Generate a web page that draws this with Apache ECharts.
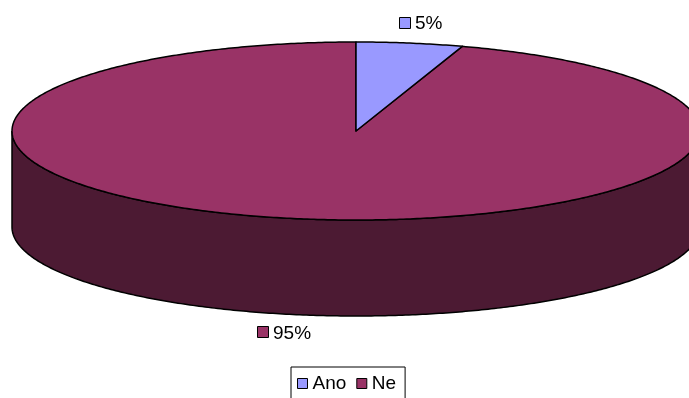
<!DOCTYPE html>
<html>
<head>
<meta charset="utf-8">
<script src="https://cdn.jsdelivr.net/npm/echarts@6/dist/echarts.min.js"></script>
<style>html,body{margin:0;padding:0;background:#fff}#c{width:689px;height:398px}</style>
</head>
<body>
<div id="c"></div>
<script>
const categories = ['Ano', 'Ne'];
const values = [5, 95];
const labelTexts = ['5%', '95%'];

const topColors = ['#9999FF', '#993366'];
const sideColors = ['#4D4D80', '#4C1A33'];
const FONT = 'Liberation Sans, Arial, sans-serif';
const FONT_SIZE = 19;

// geometry (style constants)
const G = { cx: 356, cy: 131, a: 344, b: 89, depth: 96 };
const total = values.reduce((s, v) => s + v, 0);

const mctx = document.createElement('canvas').getContext('2d');
mctx.font = FONT_SIZE + 'px ' + FONT;

function pt(t, dy) {
  return [G.cx + G.a * Math.sin(t), G.cy - G.b * Math.cos(t) + (dy || 0)];
}
function arc(t0, t1, dy) {
  const pts = [];
  const n = Math.max(2, Math.ceil(Math.abs(t1 - t0) / 0.01));
  for (let i = 0; i <= n; i++) pts.push(pt(t0 + (t1 - t0) * i / n, dy));
  return pts;
}

function renderSlice(idx) {
  let before = 0;
  for (let i = 0; i < idx; i++) before += values[i];
  const t0 = before / total * 2 * Math.PI;
  const t1 = (before + values[idx]) / total * 2 * Math.PI;
  const children = [];
  const LW = 1.5;
  // side (visible front half: pi/2 .. 3pi/2)
  const s0 = Math.max(t0, Math.PI / 2), s1 = Math.min(t1, 3 * Math.PI / 2);
  if (s1 > s0) {
    const topEdge = arc(s0, s1, 0);
    const botEdge = arc(s1, s0, G.depth);
    children.push({
      type: 'polygon',
      shape: { points: topEdge.concat(botEdge) },
      style: { fill: sideColors[idx], stroke: '#000', lineWidth: LW }
    });
  }
  // top face
  children.push({
    type: 'polygon',
    shape: { points: [[G.cx, G.cy]].concat(arc(t0, t1, 0)) },
    style: { fill: topColors[idx], stroke: '#000', lineWidth: LW, lineJoin: 'round' }
  });
  // label
  const tm = (t0 + t1) / 2;
  const p = pt(tm, 0);
  const front = Math.cos(tm) < 0;
  const dx = Math.sin(tm) >= 0 ? 11 : -18;
  const ly = front ? p[1] + G.depth + 17.5 : p[1] - 20.5;
  const txtW = mctx.measureText(labelTexts[idx]).width;
  const groupW = 11 + 5 + txtW;
  const lx = Math.round(p[0] + dx - groupW / 2);
  children.push({
    type: 'rect',
    shape: { x: lx + 0.5, y: Math.round(ly) - 5.5, width: 11, height: 11 },
    style: { fill: topColors[idx], stroke: '#000', lineWidth: 1 }
  });
  children.push({
    type: 'text',
    style: {
      x: lx + 16, y: ly + 1, text: labelTexts[idx],
      fill: '#000', font: FONT_SIZE + 'px ' + FONT, verticalAlign: 'middle', align: 'left'
    }
  });
  return { type: 'group', children: children };
}

const chart = echarts.init(document.getElementById('c'), null, { renderer: 'canvas' });
chart.setOption({
  animation: false,
  legend: {
    top: 367,
    left: 291,
    orient: 'horizontal',
    icon: 'rect',
    itemWidth: 10,
    itemHeight: 10,
    itemGap: 10,
    padding: [7, 9, 8, 6],
    borderColor: '#000',
    borderWidth: 1,
    borderRadius: 0,
    textStyle: { fontSize: FONT_SIZE, color: '#000', fontFamily: FONT },
    data: categories.map((c, i) => ({
      name: c,
      itemStyle: { color: topColors[i], borderColor: '#000', borderWidth: 1 }
    }))
  },
  series: categories.map((c, i) => ({
    type: 'custom',
    name: c,
    coordinateSystem: 'none',
    silent: true,
    itemStyle: { color: topColors[i] },
    z: i === 0 ? 3 : 2,
    data: [[values[i]]],
    renderItem: function () { return renderSlice(i); }
  }))
});
</script>
</body>
</html>
